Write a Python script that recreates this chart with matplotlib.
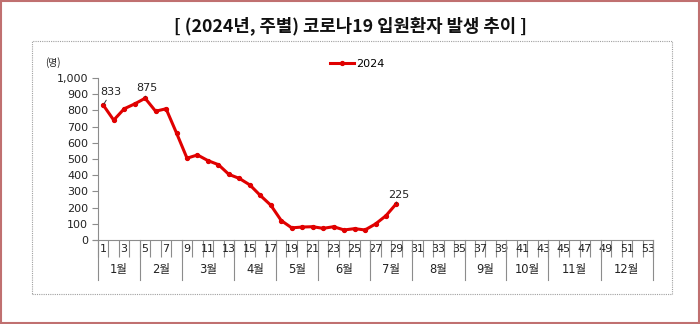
import matplotlib
matplotlib.use("Agg")
import matplotlib.pyplot as plt
import matplotlib.transforms as mtransforms
from matplotlib.patches import Rectangle

plt.rcParams['font.family'] = ['DejaVu Sans', 'Noto Sans CJK KR']

# weekly hospitalised COVID-19 patients, 2024 (weeks 1..29)
weeks = list(range(1, 30))
patients = [833, 740, 810, 840, 875, 795, 810, 660, 505, 525,
            490, 465, 405, 380, 340, 275, 215, 120, 75, 80,
            82, 72, 82, 62, 70, 62, 99, 150, 225]
n_weeks = 53
month_names = ['1월', '2월', '3월', '4월', '5월', '6월',
               '7월', '8월', '9월', '10월', '11월', '12월']
month_last_week = [4, 8, 13, 17, 21, 26, 30, 35, 39, 43, 48, 53]
# week -> (value, label x, label y)
labelled = {1: (833, 1.75, 880), 5: (875, 5.2, 905), 29: (225, 29.2, 250)}
y_ticks = [0, 100, 200, 300, 400, 500, 600, 700, 800, 900, 1000]

red = '#e00000'
grey = '#8c8c8c'
txt = '#222222'

fig = plt.figure(figsize=(7.0, 3.24), dpi=100)
fig.patches.append(Rectangle((0.001, 0.002), 0.997, 0.995, transform=fig.transFigure,
                             fill=False, edgecolor='#c07070', linewidth=1.5))
fig.patches.append(Rectangle((32 / 700, 1 - 294 / 324), (672 - 32) / 700, (294 - 41) / 324,
                             transform=fig.transFigure, fill=False, edgecolor='#a0a0a0',
                             linewidth=0.8, linestyle=(0, (1, 1))))

fig.text(0.5, 1 - 26 / 324, '[ (2024년, 주별) 코로나19 입원환자 발생 추이 ]',
         ha='center', va='center', fontsize=12.8, fontweight='bold',
         family=['Noto Sans CJK KR', 'DejaVu Sans'], color='#111111')

ax = fig.add_axes([98 / 700, 1 - 240 / 324, (653 - 98) / 700, 162 / 324])
ax.plot(weeks, patients, color=red, linewidth=2.2, marker='o', markersize=2.8,
        label='2024', clip_on=False)

ax.set_xlim(0.5, n_weeks + 0.5)
ax.set_ylim(0, 1000)
ax.set_yticks(y_ticks)
ax.set_yticklabels([f'{v:,}' for v in y_ticks], fontsize=8, color=txt)
ax.tick_params(axis='y', length=4, color=grey, pad=3)

for s in ['top', 'right']:
    ax.spines[s].set_visible(False)
ax.spines['left'].set_color(grey)
ax.spines['bottom'].set_color(grey)
ax.spines['bottom'].set_bounds(0.0, n_weeks + 0.5)

# week boundary ticks and odd-week labels
ax.set_xticks([w + 0.5 for w in range(0, n_weeks + 1)])
ax.set_xticklabels([])
ax.tick_params(axis='x', which='major', length=12.5, color=grey, direction='out')
ax.set_xticks(range(1, n_weeks + 1), minor=True)
ax.set_xticklabels([str(w) if w % 2 == 1 else '' for w in range(1, n_weeks + 1)],
                   minor=True, fontsize=8, color=txt)
ax.tick_params(axis='x', which='minor', length=0, pad=3)

# month separators and names
trans = mtransforms.blended_transform_factory(ax.transData, ax.transAxes)
bounds = [0] + month_last_week
for b in bounds:
    ax.plot([b + 0.5, b + 0.5], [0, -0.247], transform=trans, color=grey,
            linewidth=0.8, clip_on=False)
for name, a, b in zip(month_names, bounds[:-1], bounds[1:]):
    ax.text((a + b) / 2 + 0.5, -0.18, name, transform=trans, ha='center', va='center',
            fontsize=8.3, color=txt)

# data labels with short leader lines
for w, (v, lx, ly) in labelled.items():
    ax.annotate(str(v), xy=(w, v), xytext=(lx, ly), fontsize=8, color=txt,
                ha='center', va='bottom',
                arrowprops=dict(arrowstyle='-', color='#333333', linewidth=0.7,
                                shrinkA=0, shrinkB=1))

fig.text(45 / 700, 1 - 63 / 324, '(명)', fontsize=7, color=txt, va='center',
         family=['Noto Sans CJK KR', 'DejaVu Sans'])

ax.legend(loc='center left', bbox_to_anchor=(324 / 700, 1 - 64 / 324),
          bbox_transform=fig.transFigure, frameon=False, fontsize=8,
          handlelength=2.2, handletextpad=0.2, borderpad=0)

fig.savefig('out.png', dpi=100)
